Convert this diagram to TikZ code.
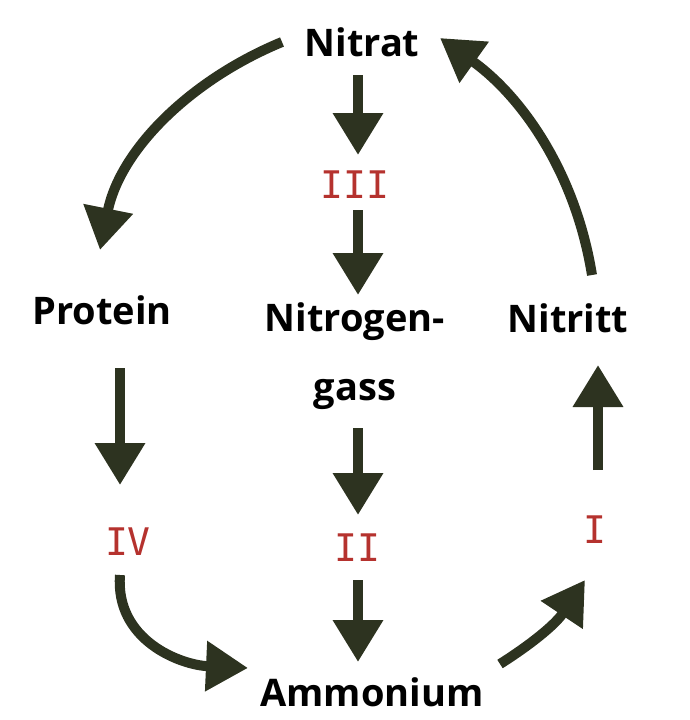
\documentclass[tikz,border=0pt]{standalone}
\usepackage{fontspec}
\setmainfont{Open Sans}
\newfontfamily\monof{DejaVu Sans Mono}
\usetikzlibrary{arrows.meta}
\definecolor{arr}{HTML}{2D3320}
\definecolor{rd}{HTML}{B5322E}
\begin{document}
\begin{tikzpicture}[x=1pt,y=-1pt,
 lab/.style={font=\fontsize{38}{40}\selectfont\bfseries, inner sep=2pt},
 rom/.style={font=\monof\fontsize{38}{40}\selectfont, text=rd, inner sep=2pt},
 ar/.style={draw=arr, line width=10pt, -{Triangle[length=42pt,width=48pt]}}]
\useasboundingbox (0,0) rectangle (690,720);
\node[lab] (nitrat) at (362,42) {Nitrat};
\node[lab] (protein) at (102,310) {Protein};
\node[lab] (nitrogen) at (355,322) {Nitrogen-};
\node[lab] (gass) at (355,394) {gass};
\node[lab] (nitritt) at (568,318) {Nitritt};
\node[lab] (ammonium) at (372,692) {Ammonium};
\node[rom] (iii) at (355,185) {III};
\node[rom] (iv) at (128,542) {IV};
\node[rom] (ii) at (357,548) {II};
\node[rom] (i) at (595,530) {I};
\coordinate (a1) at (358,75); \coordinate (a2) at (358,155);
\coordinate (b1) at (358,210); \coordinate (b2) at (358,295);
\coordinate (c1) at (358,428); \coordinate (c2) at (358,515);
\coordinate (d1) at (358,580); \coordinate (d2) at (358,662);
\coordinate (e1) at (120,368); \coordinate (e2) at (120,485);
\coordinate (f1) at (120,575); \coordinate (f2) at (248,668);
\coordinate (g1) at (500,664); \coordinate (g2) at (585,580);
\coordinate (h1) at (598,470); \coordinate (h2) at (598,365);
\coordinate (k1) at (592,275); \coordinate (k2) at (440,38);
\coordinate (m1) at (282,42); \coordinate (m2) at (100,250);
\draw[ar] (a1) -- (a2);
\draw[ar] (b1) -- (b2);
\draw[ar] (c1) -- (c2);
\draw[ar] (d1) -- (d2);
\draw[ar] (e1) -- (e2);
\draw[ar] (f1) .. controls (115,640) and (180,665) .. (f2);
\draw[ar] (g1) .. controls (530,645) and (555,625) .. (g2);
\draw[ar] (h1) -- (h2);
\draw[ar] (k1) .. controls (575,170) and (520,95) .. (k2);
\draw[ar] (m1) .. controls (190,80) and (120,150) .. (m2);
\end{tikzpicture}
\end{document}
